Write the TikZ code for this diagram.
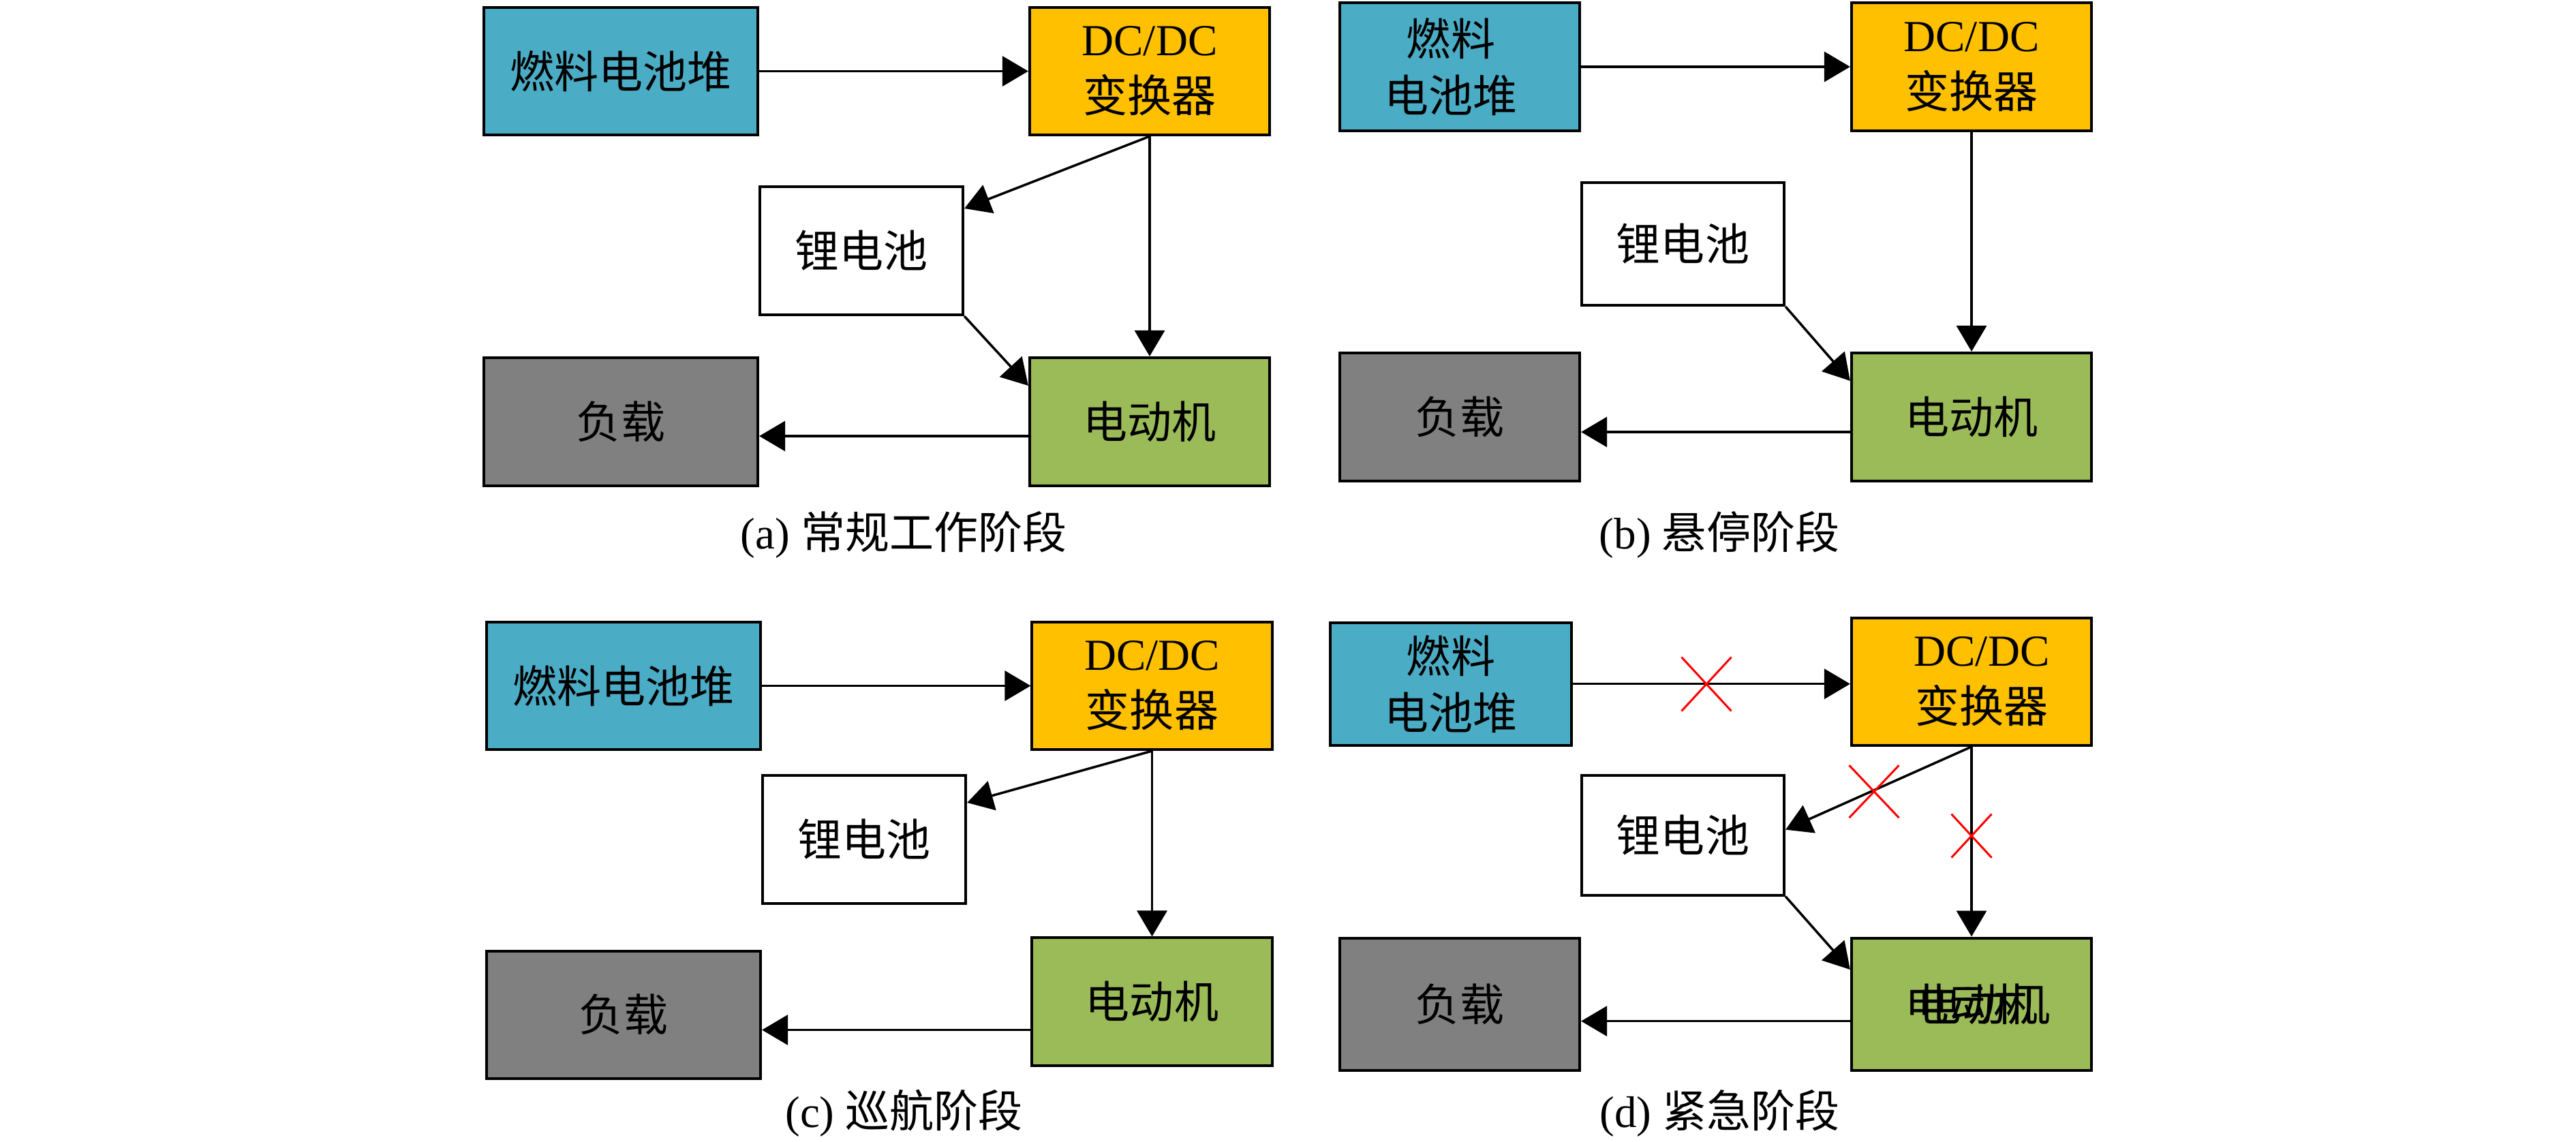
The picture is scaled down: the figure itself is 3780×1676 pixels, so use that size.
\documentclass[tikz,border=0pt]{standalone}
\usepackage{fontspec}
\setmainfont{Liberation Serif}
\newfontfamily\cjk{Noto Sans CJK SC}
\usetikzlibrary{arrows.meta,shapes.misc}
\definecolor{fuelc}{HTML}{4BACC6}
\definecolor{dcc}{HTML}{FFC000}
\definecolor{motc}{HTML}{9BBB59}
\definecolor{loadc}{HTML}{808080}
\begin{document}
\begin{tikzpicture}[x=0.01cm,y=-0.01cm,
  every node/.style={font=\fontsize{18.5}{23.6}\selectfont},
  box/.style={draw, line width=1.15pt, inner sep=0pt, align=center},
  fuel/.style={box, fill=fuelc},
  dcbox/.style={box, fill=dcc},
  libox/.style={box, fill=white},
  loadbox/.style={box, fill=loadc},
  motbox/.style={box, fill=motc},
  arr/.style={-{Triangle[length=10.8pt,width=12.5pt]}, line width=1pt},
  redx/.style={cross out, draw=red, line width=0.85pt, inner sep=0pt},
  captext/.style={anchor=base, inner sep=0pt}]
\useasboundingbox (0,0) rectangle (3780,1676);

% ---------------- (a) ----------------
\node[fuel, minimum width=4.02cm, minimum height=1.87cm] (fuelA) at (911,104.5) {\cjk 燃料电池堆};
\node[dcbox, minimum width=3.52cm, minimum height=1.87cm] (dcA) at (1687,104.5) {DC/DC\\{\cjk 变换器}};
\node[libox, minimum width=2.98cm, minimum height=1.88cm] (liA) at (1264,368) {\cjk 锂电池};
\node[loadbox, minimum width=4.02cm, minimum height=1.88cm] (loadA) at (911,619) {\cjk 负载};
\node[motbox, minimum width=3.52cm, minimum height=1.88cm] (motA) at (1687,619) {\cjk 电动机};
\node[captext] (capA) at (1326,805) {(a) {\cjk 常规工作阶段}};
\draw[arr] (fuelA.east) -- (dcA.west);
\draw[arr] (dcA.south) -- ([yshift=0.62cm]liA.east);
\draw[arr] (dcA.south) -- (motA.north);
\draw[arr] (liA.south east) -- ([yshift=0.53cm]motA.west);
\coordinate (mA) at ([yshift=-0.21cm]motA.west);
\draw[arr] (mA) -- (mA -| loadA.east);

% ---------------- (b) ----------------
\node[fuel, minimum width=3.52cm, minimum height=1.88cm] (fuelB) at (2142,98) {\hspace*{-0.26cm}{\cjk 燃料}\\\hspace*{-0.26cm}{\cjk 电池堆}};
\node[dcbox, minimum width=3.52cm, minimum height=1.88cm] (dcB) at (2893,98) {DC/DC\\{\cjk 变换器}};
\node[libox, minimum width=2.97cm, minimum height=1.80cm] (liB) at (2469.5,358) {\cjk 锂电池};
\node[loadbox, minimum width=3.52cm, minimum height=1.88cm] (loadB) at (2142,612) {\cjk 负载};
\node[motbox, minimum width=3.52cm, minimum height=1.88cm] (motB) at (2893,612) {\cjk 电动机};
\node[captext] (capB) at (2523,805) {(b) {\cjk 悬停阶段}};
\draw[arr] (fuelB.east) -- (dcB.west);
\draw[arr] (dcB.south) -- (motB.north);
\draw[arr] (liB.south east) -- ([yshift=0.53cm]motB.west);
\coordinate (mB) at ([yshift=-0.22cm]motB.west);
\draw[arr] (mB) -- (mB -| loadB.east);

% ---------------- (c) ----------------
\node[fuel, minimum width=4.02cm, minimum height=1.87cm] (fuelC) at (915,1006.5) {\cjk 燃料电池堆};
\node[dcbox, minimum width=3.52cm, minimum height=1.87cm] (dcC) at (1690.5,1006.5) {DC/DC\\{\cjk 变换器}};
\node[libox, minimum width=2.98cm, minimum height=1.88cm] (liC) at (1268,1232) {\cjk 锂电池};
\node[loadbox, minimum width=4.02cm, minimum height=1.87cm] (loadC) at (915,1489.3) {\cjk 负载};
\node[motbox, minimum width=3.52cm, minimum height=1.87cm] (motC) at (1690.5,1470) {\cjk 电动机};
\node[captext] (capC) at (1326.7,1654) {(c) {\cjk 巡航阶段}};
\draw[arr] (fuelC.east) -- (dcC.west);
\draw[arr] (dcC.south) -- ([yshift=0.54cm]liC.east);
\draw[arr] (dcC.south) -- (motC.north);
\coordinate (mC) at ([yshift=-0.415cm]motC.west);
\draw[arr] (mC) -- (mC -| loadC.east);

% ---------------- (d) ----------------
\node[fuel, minimum width=3.53cm, minimum height=1.80cm] (fuelD) at (2129,1003.7) {{\cjk 燃料}\\{\cjk 电池堆}};
\node[dcbox, minimum width=3.52cm, minimum height=1.87cm] (dcD) at (2893,1000.3) {\hspace*{0.3cm}DC/DC\\\hspace*{0.3cm}{\cjk 变换器}};
\node[libox, minimum width=2.97cm, minimum height=1.76cm] (liD) at (2469.5,1225.6) {\cjk 锂电池};
\node[loadbox, minimum width=3.52cm, minimum height=1.94cm] (loadD) at (2142,1473.6) {\cjk 负载};
\node[motbox, minimum width=3.52cm, minimum height=1.94cm] (motD) at (2893,1473.6) {\hspace*{0.18cm}\rlap{\cjk 电动机}\hspace*{0.18cm}{\cjk 电动机}};
\node[captext] (capD) at (2523.5,1654) {(d) {\cjk 紧急阶段}};
\draw[arr] (fuelD.east) -- (fuelD.east -| dcD.west);
\draw[arr] (dcD.south) -- ([yshift=0.08cm]liD.east);
\draw[arr] (dcD.south) -- (motD.north);
\draw[arr] (liD.south east) -- ([yshift=0.506cm]motD.west);
\coordinate (mD) at ([yshift=-0.25cm]motD.west);
\draw[arr] (mD) -- (mD -| loadD.east);
\node[redx, minimum width=0.70cm, minimum height=0.76cm] (xD1) at (2504,1004) {};
\node[redx, minimum width=0.70cm, minimum height=0.74cm] (xD2) at (2750,1161.7) {};
\node[redx, minimum width=0.56cm, minimum height=0.61cm] (xD3) at (2893,1226.7) {};
\end{tikzpicture}
\end{document}
